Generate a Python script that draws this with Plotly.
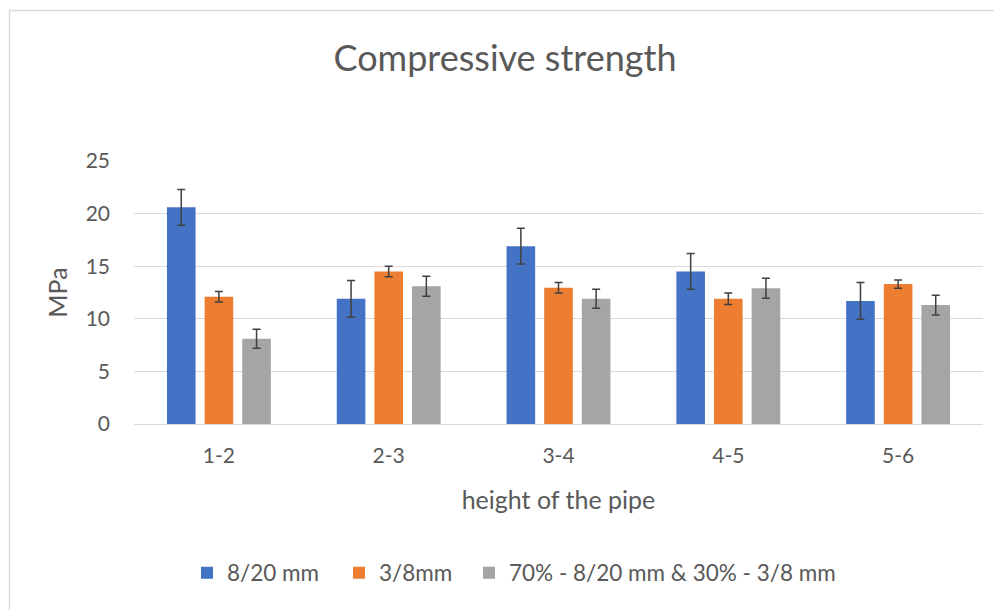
import plotly.graph_objects as go

categories = ["1-2", "2-3", "3-4", "4-5", "5-6"]
series_names = ["8/20 mm", "3/8mm", "70% - 8/20 mm & 30% - 3/8 mm"]
vals_820 = [20.6, 11.9, 16.9, 14.5, 11.7]
err_820 = [1.7, 1.75, 1.7, 1.7, 1.75]
vals_38 = [12.1, 14.5, 12.95, 11.9, 13.3]
err_38 = [0.5, 0.5, 0.5, 0.55, 0.4]
vals_mix = [8.1, 13.1, 11.9, 12.9, 11.3]
err_mix = [0.9, 0.95, 0.9, 0.95, 0.95]
colors = ["#4472C4", "#ED7D31", "#A5A5A5"]

FONT = "Lato, 'Open Sans', sans-serif"
TXT = "#595959"

# page has an 8px body margin, so figure coords = page coords - 8
OFF = 8
W, H = 994, 602
ml, mr, mt, mb = 134 - OFF, 19, 161 - OFF, 186
pw, ph = W - ml - mr, H - mt - mb

def px_x(x):
    return (x - OFF - ml) / pw

def px_y(y):
    return (H - mb - (y - OFF)) / ph

legend_ids = ["legend", "legend2", "legend3"]
legend_left = [187, 339, 469]  # page x of each legend entry

fig = go.Figure()
for name, v, e, c, lg in zip(series_names, [vals_820, vals_38, vals_mix],
                             [err_820, err_38, err_mix], colors, legend_ids):
    fig.add_trace(go.Bar(
        x=categories, y=v, name=name, marker=dict(color=c, line=dict(width=0)),
        error_y=dict(type="data", array=e, visible=True, color="#404040",
                     thickness=1.5, width=4),
        legend=lg,
    ))

legend_common = dict(orientation="h", yanchor="middle", font=dict(size=22.5),
                     itemwidth=30, bgcolor="rgba(0,0,0,0)", xanchor="left",
                     borderwidth=0)

fig.update_layout(
    width=W, height=H,
    margin=dict(l=ml, r=mr, t=mt, b=mb, pad=0),
    paper_bgcolor="white", plot_bgcolor="white",
    font=dict(family=FONT, color=TXT, size=21),
    barmode="group", bargap=0.335, bargroupgap=0.24,
    title=dict(text="Compressive strength", x=0.5, xanchor="center",
               y=1 - (58 - OFF) / H, yanchor="middle",
               font=dict(size=36, color=TXT, family=FONT)),
    xaxis=dict(title=dict(text="height of the pipe", font=dict(size=25), standoff=25),
               showgrid=False, showline=True, linecolor="#D9D9D9", linewidth=1,
               ticks="", tickfont=dict(size=21), ticklabelstandoff=13),
    yaxis=dict(title=dict(text="MPa", font=dict(size=25), standoff=10),
               range=[0, 25], dtick=5, showgrid=True, gridcolor="#D9D9D9",
               gridwidth=1, zeroline=False, showline=False, ticks="",
               tickfont=dict(size=21), ticklabelstandoff=23),
    legend=dict(x=px_x(legend_left[0]), y=px_y(573), **legend_common),
    legend2=dict(x=px_x(legend_left[1]), y=px_y(573), **legend_common),
    legend3=dict(x=px_x(legend_left[2]), y=px_y(573), **legend_common),
    showlegend=True,
    shapes=[dict(type="rect", xref="paper", yref="paper",
                 x0=px_x(9.5), x1=px_x(1020), y0=px_y(630), y1=px_y(10.5),
                 line=dict(color="#D9D9D9", width=1.5), fillcolor="rgba(0,0,0,0)",
                 layer="below")],
)

fig.write_html("out.html")
